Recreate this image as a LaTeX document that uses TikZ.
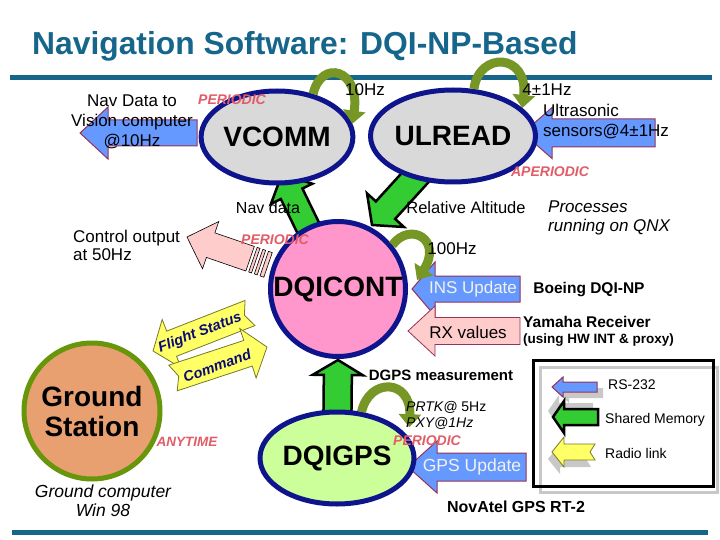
\documentclass[tikz,border=0pt]{standalone}
\usepackage{fontspec}
\setmainfont{Liberation Sans}
\usetikzlibrary{arrows.meta,calc,positioning,shapes.geometric}
\definecolor{titleblue}{RGB}{22,102,140}
\definecolor{navyline}{RGB}{14,20,140}
\definecolor{procgray}{RGB}{217,217,217}
\definecolor{contpink}{RGB}{255,150,204}
\definecolor{gpsgreen}{RGB}{204,255,153}
\definecolor{groundtan}{RGB}{232,160,112}
\definecolor{groundolive}{RGB}{104,150,10}
\definecolor{loopolive}{RGB}{118,150,38}
\definecolor{serialblue}{RGB}{102,153,255}
\definecolor{serialedge}{RGB}{150,50,90}
\definecolor{rxpink}{RGB}{255,204,204}
\definecolor{shmgreen}{RGB}{51,204,51}
\definecolor{radioyellow}{RGB}{255,255,102}
\definecolor{radioedge}{RGB}{120,120,40}
\definecolor{rateRed}{RGB}{226,92,104}
\definecolor{cmdnavy}{RGB}{10,10,120}
\definecolor{shadowgray}{RGB}{200,200,200}
\definecolor{insWhite}{RGB}{242,242,235}

\pgfdeclarelayer{bg}
\pgfsetlayers{bg,main}

% block arrow from #2 to #3: body half #4, head half #5, head length #6, tail notch #7
\newcommand{\blockarrow}[7]{%
  \path[#1] let \p1=#2, \p2=#3, \n1={atan2(\y2-\y1,\x2-\x1)}, \n2={veclen(\x2-\x1,\y2-\y1)} in
    [shift={(\p1)}, rotate=\n1]
    (0,#4) -- ({\n2-#6},#4) -- ({\n2-#6},#5) -- (\n2,0) -- ({\n2-#6},-#5) -- ({\n2-#6},-#4) -- (0,-#4) -- (#7,0) -- cycle;
}

\begin{document}
\begin{tikzpicture}[x=1pt, y=-1pt,
    proc/.style={ellipse, draw=navyline, line width=5pt, fill=procgray, minimum width=136pt,
                 minimum height=92pt, inner sep=0pt, font=\fontsize{28}{30}\selectfont\bfseries},
    lbl/.style={font=\fontsize{17}{20}\selectfont, inner sep=0pt, align=center},
    lblb/.style={font=\fontsize{15.5}{18}\selectfont\bfseries, inner sep=0pt},
    rate/.style={font=\fontsize{14}{16}\selectfont\bfseries\itshape, text=rateRed, inner sep=0pt},
    serial/.style={fill=serialblue, draw=serialedge, line width=1pt},
    rxarrow/.style={fill=rxpink, draw=serialedge, line width=0.8pt},
    shmarrow/.style={fill=shmgreen, draw=black, line width=2.5pt, line join=miter},
    radio/.style={fill=radioyellow, draw=radioedge, line width=0.8pt},
    loopy/.style={draw=loopolive, line width=9pt, -{Triangle[length=13pt,width=22pt]}}]
  \useasboundingbox (0,0) rectangle (720,540);

  \node[anchor=base west, font=\fontsize{31.8}{34}\selectfont\bfseries, text=titleblue, inner sep=0pt]
    (title) at (32,55) {Navigation Software: DQI-NP-Based};
  \draw[titleblue, line width=5pt] (10,78) -- (712,78);
  \draw[titleblue, line width=5pt] (12,532) -- (708,532);

  % processes
  \node[proc] (vcomm) at (277,137) {VCOMM};
  \node[proc] (ulread) at (453,136) {ULREAD};
  \node[proc, circle, fill=contpink, minimum size=135pt] (dqicont) at (338,289) {DQICONT};
  \node[proc, fill=gpsgreen] (dqigps) at (337,458) {DQIGPS};
  \node[circle, draw=groundolive, line width=5pt, fill=groundtan, minimum size=136pt, inner sep=0pt,
        align=center, font=\fontsize{28}{30}\selectfont\bfseries] (ground) at (92,411) {Ground\\Station};

  % periodic loops
  \draw[loopy] (vcomm.50) .. controls +(8,-35) and +(8,-55) .. (vcomm.10);
  \draw[loopy] (ulread.66) .. controls +(5,-38) and +(6,-55) .. (ulread.22);
  \draw[loopy] (dqicont.39) .. controls +(18,-24) and +(26,-40) .. ($(dqicont.east)+(9,-9)$);
  \draw[loopy] (dqigps.62) .. controls +(8,-35) and +(2,-48) .. ($(dqigps.22)+(6,-4)$);

  % labels
  \node[lbl] (navvision) at (132,122) {Nav Data to\\Vision computer\\@10Hz};
  \node[rate] (vcommrate) at (232,100) {PERIODIC};
  \node[lbl] (tenhz) at (365,90) {10Hz};
  \node[lbl] (fourhz) at (547,90) {4±1Hz};
  \node[lbl, align=left, anchor=west] (ultra) at (543,122) {Ultrasonic\\sensors@4±1Hz};
  \node[rate] (ulrate) at (550,172) {APERIODIC};
  \node[lbl, font=\fontsize{16}{19}\selectfont] (navdata) at (268,208) {Nav data};
  \node[lbl, font=\fontsize{16.5}{19}\selectfont] (relalt) at (466,208) {Relative Altitude};
  \node[lbl, align=left, anchor=west, font=\fontsize{17}{19}\selectfont\itshape] (qnx) at (548,218)
    {Processes\\running on QNX};
  \node[lbl, align=left, anchor=west, font=\fontsize{17}{18}\selectfont] (ctl) at (73,245) {Control output\\at 50Hz};
  \node[rate] (ctlrate) at (275,240) {PERIODIC};
  \node[lbl] (hundred) at (452,249) {100Hz};
  \node[lbl, text=insWhite] (insupd) at (473,289) {INS Update};
  \node[lblb] (boeing) at (589,290) {Boeing DQI-NP};
  \node[lbl] (rxval) at (468,332) {RX values};
  \node[lblb, anchor=west] (yamaha) at (523,322) {Yamaha Receiver};
  \node[lblb, anchor=west, font=\fontsize{13.5}{16}\selectfont\bfseries] (proxy) at (523,340) {(using HW INT \& proxy)};
  \node[lblb, font=\fontsize{15}{18}\selectfont\bfseries] (dgps) at (441,375) {DGPS measurement};
  \node[lbl, align=left, anchor=west, font=\fontsize{14}{16}\selectfont] (prtk) at (406,415)
    {\textit{PRTK@} 5Hz\\\textit{PXY@1Hz}};
  \node[rate] (gpsrate) at (427,441) {PERIODIC};
  \node[lbl, text=insWhite, font=\fontsize{17.5}{20}\selectfont] (gpsupd) at (472,467) {GPS Update};
  \node[lblb, font=\fontsize{16}{18}\selectfont\bfseries] (novatel) at (516,507) {NovAtel GPS RT-2};
  \node[lbl, font=\fontsize{17.5}{19}\selectfont\itshape] (win) at (103,501) {Ground computer\\Win 98};
  \node[rate, font=\fontsize{13.5}{16}\selectfont\bfseries\itshape] (anytime) at (187,442) {ANYTIME};
  \node[font=\fontsize{14.5}{16}\selectfont\bfseries\itshape, text=cmdnavy, rotate=21, inner sep=0pt]
    (fstatus) at (200,333) {Flight Status};
  \node[font=\fontsize{14.5}{16}\selectfont\bfseries\itshape, text=cmdnavy, rotate=20, inner sep=0pt]
    (cmd) at (217,366) {Command};

  % legend
  \draw[shadowgray, line width=3pt] (540,367) rectangle (717,492);
  \draw[black, line width=3pt] (533,360) rectangle (713,486);
  \node[lbl, anchor=west, font=\fontsize{14}{16}\selectfont] (rs) at (608,385) {RS-232};
  \node[lbl, anchor=west, font=\fontsize{14}{16}\selectfont] (shm) at (605,420) {Shared Memory};
  \node[lbl, anchor=west, font=\fontsize{14}{16}\selectfont] (radiolbl) at (605,453) {Radio link};

  % arrow ends
  \coordinate (visiontail) at (197,133);  \coordinate (visiontip) at (80,133);
  \coordinate (ultratail) at (655,133);   \coordinate (ultratip) at (523,133);
  \coordinate (navtip) at (282,174);
  \coordinate (reltip) at (372,225);
  \coordinate (ctltip) at (187,237);
  \coordinate (instail) at (520,289);     \coordinate (instip) at (412,289);
  \coordinate (rxtail) at (520,331);      \coordinate (rxtip) at (408,331);
  \coordinate (dgpstip) at (338,360);
  \coordinate (gpstail) at (526,467);     \coordinate (gpstip) at (408,467);
  \coordinate (fstail) at (250,313);      \coordinate (fstip) at (153,351);
  \coordinate (cmdtail) at (173,378);     \coordinate (cmdtip) at (267,347);
  \coordinate (rstail) at (597,387);      \coordinate (rstip) at (552,387);
  \coordinate (shmtail) at (598,417);     \coordinate (shmtip) at (553,417);
  \coordinate (radtail) at (595,452);     \coordinate (radtip) at (552,452);

  \begin{pgfonlayer}{bg}
    \fill[white] (0,0) rectangle (720,540);
    \blockarrow{serial}{(visiontail)}{(visiontip)}{13}{26}{28}{0}
    \blockarrow{serial}{(ultratail)}{(ultratip)}{14}{25.5}{29}{0}
    \blockarrow{shmarrow}{(dqicont.center)}{(navtip)}{12}{23}{22}{0}
    \blockarrow{shmarrow}{(ulread.center)}{(reltip)}{13}{25}{20}{0}
    \blockarrow{serial}{(instail)}{(instip)}{13}{27}{23}{0}
    \blockarrow{rxarrow}{(rxtail)}{(rxtip)}{13.5}{25}{27}{0}
    \blockarrow{shmarrow}{(dqigps.center)}{(dgpstip)}{14}{25}{15}{0}
    \blockarrow{serial}{(gpstail)}{(gpstip)}{14}{26}{29}{0}
    \blockarrow{radio}{(fstail)}{(fstip)}{13.5}{26}{20}{6}
    \blockarrow{radio}{(cmdtail)}{(cmdtip)}{13.5}{26}{20}{6}
    % striped control output arrow
    \path[rxarrow, draw=black, line width=0.6pt] let \p1=(dqicont.center), \p2=(ctltip),
        \n1={atan2(\y2-\y1,\x2-\x1)}, \n2={veclen(\x2-\x1,\y2-\y1)} in
      [shift={(\p1)}, rotate=\n1]
      (74,-13) rectangle (78,13) (81,-13) rectangle (84,13) (87,-13) rectangle (90,13)
      (93,13) -- ({\n2-25},13) -- ({\n2-25},25) -- (\n2,0) -- ({\n2-25},-25) -- ({\n2-25},-13) -- (93,-13) -- cycle;
    % legend arrows with shadows
    \blockarrow{fill=shadowgray}{($(rstail)+(6,6)$)}{($(rstip)+(6,6)$)}{5}{10}{11}{0}
    \blockarrow{serial}{(rstail)}{(rstip)}{5}{10}{11}{0}
    \blockarrow{fill=shadowgray}{($(shmtail)+(-5,-6)$)}{($(shmtip)+(-5,-6)$)}{8}{16}{11}{0}
    \blockarrow{shmarrow}{(shmtail)}{(shmtip)}{8}{16}{11}{0}
    \blockarrow{fill=shadowgray}{($(radtail)+(-4,7)$)}{($(radtip)+(-4,7)$)}{8}{15}{12}{5}
    \blockarrow{radio}{(radtail)}{(radtip)}{8}{15}{12}{5}
  \end{pgfonlayer}
\end{tikzpicture}
\end{document}
